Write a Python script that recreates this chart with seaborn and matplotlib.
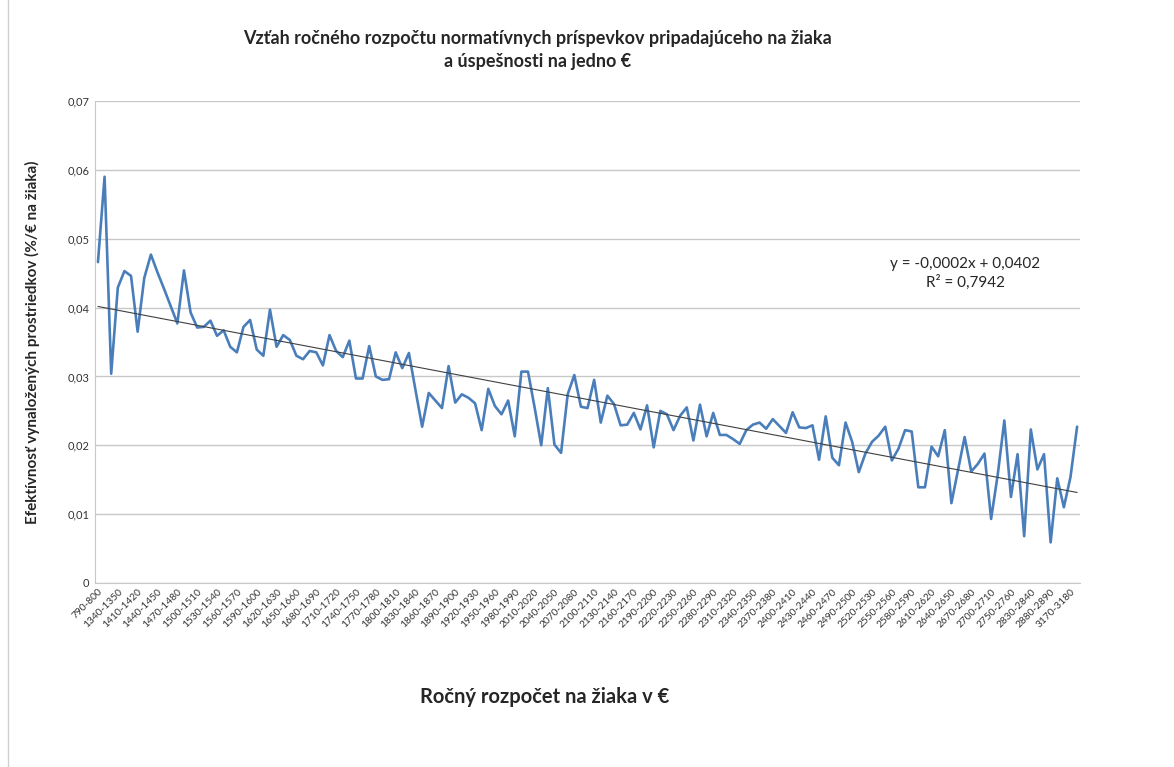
import numpy as np
import pandas as pd
import matplotlib
matplotlib.use("Agg")
import matplotlib.pyplot as plt
import seaborn as sns

# kategorie rozpoctu na ziaka (nepravidelne zaciatky a konce, stred po 10 €)
zaciatok = ["790-800", "1280-1290", "1310-1320", "1340-1350", "1370-1380", "1390-1400"]
stred = ["%d-%d" % (a, a + 10) for a in range(1410, 2710, 10)]
koniec = ["2710-2720", "2730-2740", "2750-2760", "2780-2790", "2800-2810", "2830-2840",
          "2850-2860", "2870-2880", "2880-2890", "2920-2930", "3010-3020", "3170-3180", "3350-3360"]
kategorie = zaciatok + stred + koniec

# efektivnost vynalozenych prostriedkov (%/€ na ziaka)
efektivnost = [
    0.0466, 0.0590, 0.0304, 0.0429, 0.0453, 0.0446, 0.0365, 0.0443, 0.0477, 0.0451,
    0.0427, 0.0402, 0.0377, 0.0454, 0.0393, 0.0371, 0.0372, 0.0381, 0.0359, 0.0367,
    0.0343, 0.0335, 0.0372, 0.0382, 0.0339, 0.0330, 0.0397, 0.0343, 0.0360, 0.0353,
    0.0330, 0.0325, 0.0337, 0.0335, 0.0316, 0.0360, 0.0337, 0.0328, 0.0352, 0.0297,
    0.0297, 0.0344, 0.0300, 0.0295, 0.0296, 0.0335, 0.0312, 0.0334, 0.0280, 0.0227,
    0.0276, 0.0265, 0.0254, 0.0315, 0.0262, 0.0274, 0.0269, 0.0261, 0.0222, 0.0282,
    0.0257, 0.0245, 0.0265, 0.0213, 0.0307, 0.0307, 0.0255, 0.0200, 0.0283, 0.0201,
    0.0189, 0.0274, 0.0302, 0.0256, 0.0254, 0.0295, 0.0233, 0.0272, 0.0260, 0.0229,
    0.0230, 0.0247, 0.0223, 0.0258, 0.0197, 0.0250, 0.0245, 0.0222, 0.0243, 0.0255,
    0.0207, 0.0259, 0.0213, 0.0247, 0.0215, 0.0215, 0.0209, 0.0202, 0.0222, 0.0230,
    0.0233, 0.0224, 0.0238, 0.0228, 0.0218, 0.0248, 0.0226, 0.0225, 0.0229, 0.0179,
    0.0242, 0.0182, 0.0171, 0.0233, 0.0205, 0.0161, 0.0188, 0.0205, 0.0214, 0.0227,
    0.0178, 0.0195, 0.0222, 0.0220, 0.0139, 0.0139, 0.0198, 0.0184, 0.0222, 0.0116,
    0.0164, 0.0212, 0.0162, 0.0173, 0.0188, 0.0093, 0.0157, 0.0236, 0.0125, 0.0187,
    0.0068, 0.0223, 0.0165, 0.0187, 0.0059, 0.0152, 0.0110, 0.0154, 0.0227,
]

rovnica = "y = -0,0002x + 0,0402\nR² = 0,7942"

data = pd.DataFrame({"kategoria": kategorie, "efektivnost": efektivnost})
data["poradie"] = np.arange(len(data))

sns.set_style("white")
plt.rcParams['font.family'] = ['Lato', 'DejaVu Sans']

fig = plt.figure(figsize=(11.74, 7.67), dpi=100)
ax = fig.add_axes([0.0809, 0.2399, 0.8391, 0.6284])

sns.lineplot(data=data, x="poradie", y="efektivnost", color="#4a7ebb", linewidth=1.9, ax=ax)
# linearny trend
sns.regplot(data=data, x="poradie", y="efektivnost", scatter=False, ci=None,
            color="#404040", line_kws={"linewidth": 0.8}, ax=ax)

ax.set_xlim(-0.45, len(data) - 0.55)
ax.set_ylim(0, 0.07)
ax.set_yticks(np.arange(0, 0.071, 0.01))
ax.set_yticklabels(["0"] + [("%.2f" % v).replace(".", ",") for v in np.arange(0.01, 0.071, 0.01)],
                   fontsize=8, color="#333333")
ax.set_xticks(data["poradie"][::3])
ax.set_xticklabels(data["kategoria"][::3], rotation=45, ha="right", rotation_mode="anchor",
                   fontsize=7.3, color="#333333")
ax.tick_params(axis="both", length=0, pad=4)
ax.tick_params(axis="x", pad=3)

ax.grid(axis="y", color="#c8c8c8", linewidth=1)
ax.set_axisbelow(True)
for s in ["top", "right"]:
    ax.spines[s].set_visible(False)
ax.spines["left"].set_color("#c8c8c8")
ax.spines["bottom"].set_color("#c8c8c8")

ax.set_xlabel("")
ax.set_ylabel("")
fig.text(0.464, 0.091, "Ročný rozpočet na žiaka v €", ha="center", va="center",
         fontsize=14.5, fontweight="bold")
fig.text(0.028, 0.554, "Efektívnosť vynaložených prostriedkov (%/€ na žiaka)", ha="center",
         va="center", rotation=90, fontsize=11, fontweight="bold")
fig.text(0.458, 0.935, "Vzťah ročného rozpočtu normatívnych príspevkov pripadajúceho na žiaka\n"
         "a úspešnosti na jedno €", ha="center", va="center", fontsize=13,
         fontweight="bold", linespacing=1.4)
fig.text(0.822, 0.644, rovnica, ha="center", va="center", fontsize=11, linespacing=1.3)

# ramcek grafu
fig.add_artist(plt.Line2D([0.007, 0.007], [0, 1], transform=fig.transFigure,
                          color="#d0d0d0", linewidth=1))

fig.savefig("out.png", dpi=100)
